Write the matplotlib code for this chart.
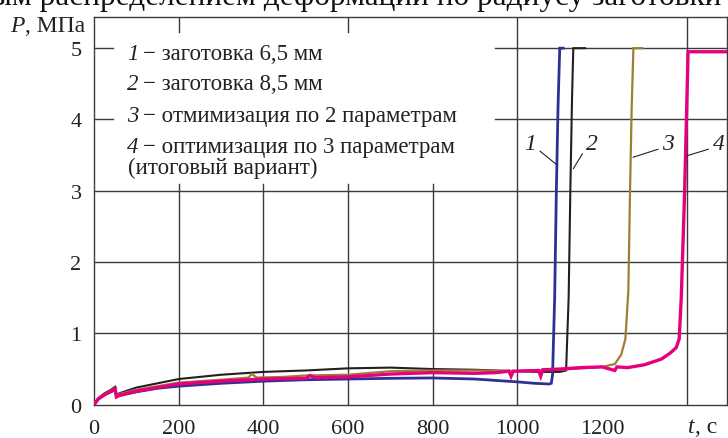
import numpy as np
import matplotlib.pyplot as plt

plt.rcParams['font.family'] = ['Liberation Serif', 'DejaVu Serif']

# curve 1 - заготовка 6,5 мм
t1 = [0, 10, 25, 40, 50, 53, 60, 100, 150, 200, 300, 400, 500, 600, 700, 800,
      900, 950, 1000, 1040, 1075, 1080, 1083, 1088, 1092, 1096, 1100, 1108]
p1 = [0, 0.08, 0.14, 0.18, 0.21, 0.11, 0.13, 0.18, 0.23, 0.26, 0.30, 0.33, 0.35,
      0.36, 0.37, 0.375, 0.36, 0.34, 0.32, 0.30, 0.29, 0.30, 0.42, 1.5, 3.0, 4.2,
      5.0, 5.0]
# curve 2 - заготовка 8,5 мм
t2 = [0, 10, 25, 40, 50, 53, 60, 100, 150, 200, 300, 400, 500, 600, 700, 800,
      900, 1000, 1050, 1100, 1115, 1121, 1125, 1129, 1132, 1160]
p2 = [0, 0.09, 0.16, 0.21, 0.25, 0.14, 0.16, 0.24, 0.30, 0.36, 0.42, 0.46, 0.48,
      0.51, 0.52, 0.50, 0.49, 0.47, 0.46, 0.46, 0.48, 1.5, 3.0, 4.3, 5.0, 5.0]
# curve 3 - по 2 параметрам
t3 = [0, 10, 25, 40, 50, 53, 60, 100, 150, 200, 300, 365, 372, 385, 450, 500,
      600, 700, 800, 900, 1000, 1100, 1200, 1230, 1245, 1255, 1262, 1266, 1270,
      1274, 1295]
p3 = [0, 0.09, 0.15, 0.20, 0.23, 0.13, 0.15, 0.21, 0.26, 0.31, 0.35, 0.38, 0.43,
      0.38, 0.39, 0.41, 0.42, 0.47, 0.48, 0.48, 0.47, 0.49, 0.53, 0.57, 0.70,
      0.92, 1.6, 3.0, 4.2, 5.0, 5.0]
# curve 4 - по 3 параметрам
t4 = [0, 10, 25, 40, 50, 53, 60, 100, 150, 200, 300, 400, 500, 510, 520, 600,
      700, 800, 900, 950, 980, 985, 990, 1050, 1055, 1060, 1100, 1150, 1200, 1230,
      1235, 1260, 1300, 1320, 1340, 1360, 1375, 1382, 1387, 1395, 1400, 1403, 1495]
p4 = [0, 0.08, 0.14, 0.19, 0.22, 0.11, 0.13, 0.19, 0.24, 0.29, 0.33, 0.36, 0.37,
      0.41, 0.38, 0.39, 0.43, 0.45, 0.44, 0.45, 0.47, 0.40, 0.47, 0.48, 0.40,
      0.49, 0.50, 0.52, 0.53, 0.48, 0.53, 0.52, 0.56, 0.60, 0.64, 0.72, 0.80,
      0.92, 1.5, 3.0, 4.2, 4.95, 4.95]

curves = [(t2, p2, '#231f20', 1.5), (t1, p1, '#2e3192', 2.0),
          (t3, p3, '#9c7f32', 1.6), (t4, p4, '#e6007e', 2.4)]

legend_nums = ['1', '2', '3', '4']
legend_txt = ['− заготовка 6,5 мм', '− заготовка 8,5 мм',
              '− отмимизация по 2 параметрам', '− оптимизация по 3 параметрам']
legend_extra = '(итоговый вариант)'

xticks = [0, 200, 400, 600, 800, 1000, 1200]
yticks = [0, 1, 2, 3, 4, 5]

W, H = 728, 439
fig = plt.figure(figsize=(W / 100, H / 100), dpi=100)
ax = fig.add_axes([94 / W, 33.3 / H, 633 / W, 387.4 / H])
ax.set_xlim(0, 1495)
ax.set_ylim(0, 5.433)

gc = '#3c3c3c'
tc = '#222222'
glw = 1.0
for y in [1, 2, 3]:
    ax.axhline(y, color=gc, lw=glw, zorder=1)
for y in [4, 5]:
    ax.axhline(y, xmin=947 / 1495, color=gc, lw=glw, zorder=1)
    ax.axhline(y, xmax=19 / 633, color=gc, lw=glw, zorder=1)
for x in [200, 400, 600, 800]:
    ax.axvline(x, ymax=3.1 / 5.433, color=gc, lw=glw, zorder=1)
for x in [1000, 1400]:
    ax.axvline(x, color=gc, lw=glw, zorder=1)
for x in [200, 600]:
    ax.axvline(x, ymin=1 - 15 / 387.4, color=gc, lw=glw, zorder=1)
for s in ax.spines.values():
    s.set_color(gc)
    s.set_linewidth(glw)

for t, p, c, lw in curves:
    ax.plot(t, p, color=c, lw=lw, solid_joinstyle='miter', zorder=3)

ax.set_xticks(xticks)
ax.set_yticks(yticks)
ax.tick_params(length=0, labelsize=16, colors=tc)
ax.tick_params(axis='x', pad=10)
ax.tick_params(axis='y', pad=9)

# legend written as text
fs = 16.5
ys = [4.85, 4.43, 3.98, 3.55]
for n, s, y in zip(legend_nums, legend_txt, ys):
    ax.text(78, y, n, style='italic', fontsize=fs, va='baseline', color=tc)
    ax.text(116, y, s, fontsize=fs, va='baseline', color=tc)
ax.text(80, 3.25, legend_extra, fontsize=fs, va='baseline', color=tc)

# curve labels with leaders
lab = [('1', (1030, 3.66), (1094, 3.36), (1, 0.3)),
       ('2', (1176, 3.66), (1132, 3.31), (0, 0.3)),
       ('3', (1356, 3.66), (1273, 3.47), (0, 0.3)),
       ('4', (1475, 3.66), (1400, 3.49), (0, 0.3))]
for s, xt, xy, rp in lab:
    ax.annotate(s, xy=xy, xytext=xt, style='italic', fontsize=17,
                ha='center', va='center', color=tc,
                arrowprops=dict(arrowstyle='-', lw=0.8, color=tc,
                                shrinkA=1, shrinkB=0, relpos=rp))

# axis names
fig.text(10 / W, 1 - 27 / H, 'P', style='italic', fontsize=17, va='center',
         color=tc)
fig.text(25 / W, 1 - 27 / H, ', МПа', fontsize=17, va='center', color=tc)
fig.text(688 / W, 1 - 428 / H, 't', style='italic', fontsize=17, va='center',
         color=tc)
fig.text(695 / W, 1 - 428 / H, ', c', fontsize=17, va='center', color=tc)

# cut-off line of page text above the chart
fig.text(-24 / W, 1 - 5 / H, 'вым распределением деформации по радиусу заготовки',
         fontsize=22.5, va='baseline', color='#111111')

fig.savefig('out.png', dpi=100)
